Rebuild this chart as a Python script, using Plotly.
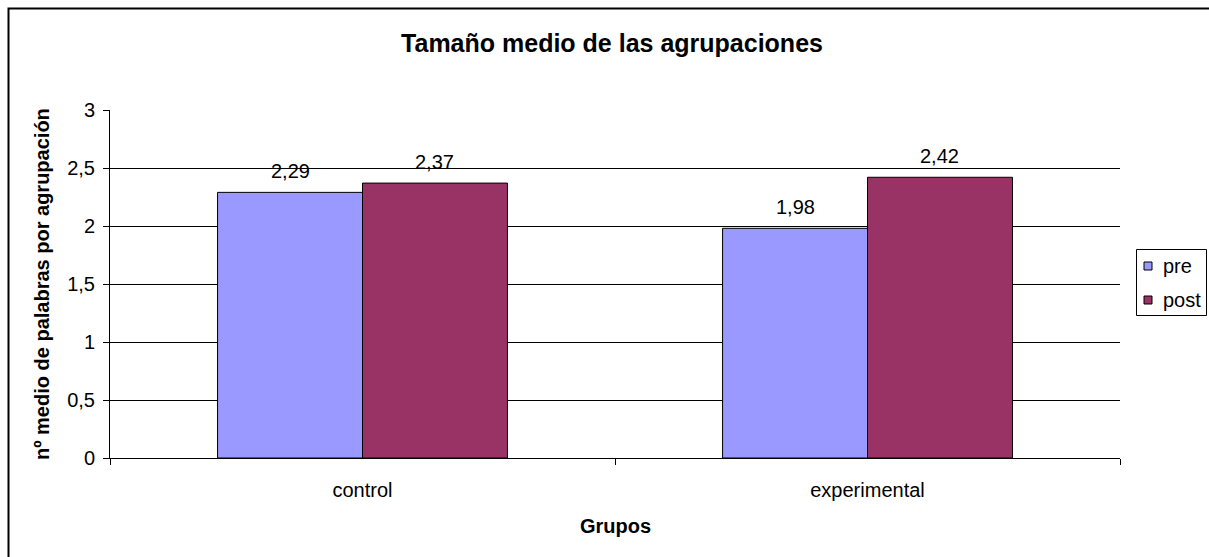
import plotly.graph_objects as go

categories = ["control", "experimental"]
pre_values = [2.29, 1.98]
post_values = [2.37, 2.42]
series_names = ["pre", "post"]
y_ticks = [0, 0.5, 1, 1.5, 2, 2.5, 3]

title_text = "Tamaño medio de las agrupaciones"
y_title = "nº medio de palabras por agrupación"
x_title = "Grupos"

PRE_COLOR = "#9999FF"
POST_COLOR = "#993366"
FONT = "Liberation Sans, Arial, sans-serif"

W, H = 1209, 557
L, R, T, B = 110, 89, 110, 99
plot_w = W - L - R
plot_h = H - T - B


def px_x(px):
    return (px - L) / plot_w


def px_y(py):
    return ((H - B) - py) / plot_h


colors = [PRE_COLOR, POST_COLOR]
series_values = [pre_values, post_values]

fig = go.Figure()
for name, vals, col in zip(series_names, series_values, colors):
    fig.add_trace(go.Bar(
        x=categories, y=vals, name=name, showlegend=False,
        marker=dict(color=col, line=dict(color="black", width=1)),
    ))

bargap = 0.426
cat_px = plot_w / len(categories)
bar_px = cat_px * (1 - bargap) / 2

annotations = []
for vals, sign in zip(series_values, [-1, 1]):
    for c, v in zip(categories, vals):
        annotations.append(dict(
            x=c, y=v, xref="x", yref="y",
            text=f"{v:.2f}".replace(".", ","),
            showarrow=False, xshift=sign * bar_px / 2, yshift=21,
            yanchor="middle",
            font=dict(family=FONT, size=20, color="black"),
        ))

# axis titles
annotations.append(dict(
    x=px_x(42), y=0.5, xref="paper", yref="paper",
    text=f"<b>{y_title}</b>", textangle=-90, showarrow=False,
    xanchor="center", yanchor="middle",
    font=dict(family=FONT, size=20, color="black"),
))
annotations.append(dict(
    x=0.5, y=px_y(526), xref="paper", yref="paper",
    text=f"<b>{x_title}</b>", showarrow=False,
    xanchor="center", yanchor="middle",
    font=dict(family=FONT, size=20, color="black"),
))

shapes = [dict(
    type="rect", xref="paper", yref="paper",
    x0=px_x(8.5), x1=px_x(W + 20),
    y0=px_y(H + 20), y1=px_y(8.5),
    line=dict(color="black", width=2), fillcolor="rgba(0,0,0,0)", layer="below",
)]

# legend (drawn as a boxed key)
shapes.append(dict(
    type="rect", xref="paper", yref="paper",
    x0=px_x(1136.5), x1=px_x(1206.5), y0=px_y(315.5), y1=px_y(249.5),
    line=dict(color="black", width=1), fillcolor="white",
))
row_centers = [266, 300]
for name, col, yc in zip(series_names, colors, row_centers):
    shapes.append(dict(
        type="rect", xref="paper", yref="paper",
        x0=px_x(1144), x1=px_x(1152), y0=px_y(yc + 4), y1=px_y(yc - 4),
        line=dict(color="black", width=1), fillcolor=col,
    ))
    annotations.append(dict(
        x=px_x(1161), y=px_y(yc), xref="paper", yref="paper",
        text=name, showarrow=False, xanchor="left", yanchor="middle",
        font=dict(family=FONT, size=20, color="black"),
    ))

fig.update_layout(
    width=W, height=H,
    margin=dict(l=L, r=R, t=T, b=B, autoexpand=False),
    paper_bgcolor="white", plot_bgcolor="white",
    separators=",.",
    barmode="group", bargap=bargap, bargroupgap=0,
    font=dict(family=FONT, size=20, color="black"),
    title=dict(text=f"<b>{title_text}</b>", x=612 / W, xanchor="center",
               y=1 - 43 / H, yanchor="middle",
               font=dict(family=FONT, size=25, color="black")),
    showlegend=False,
    annotations=annotations,
    shapes=shapes,
)

fig.update_yaxes(
    range=[0, 3], tickvals=y_ticks, tickformat=".1~f",
    showgrid=True, gridcolor="black", gridwidth=1,
    showline=True, linecolor="black", linewidth=1,
    ticks="outside", ticklen=6, tickcolor="black",
    zeroline=False, ticklabelstandoff=4,
    tickfont=dict(family=FONT, size=20, color="black"),
)
fig.update_xaxes(
    showline=True, linecolor="black", linewidth=1,
    ticks="outside", ticklen=6, tickcolor="black", tickson="boundaries",
    showgrid=False, zeroline=False, ticklabelstandoff=14,
    tickfont=dict(family=FONT, size=20, color="black"),
)

fig.write_html("out.html")
